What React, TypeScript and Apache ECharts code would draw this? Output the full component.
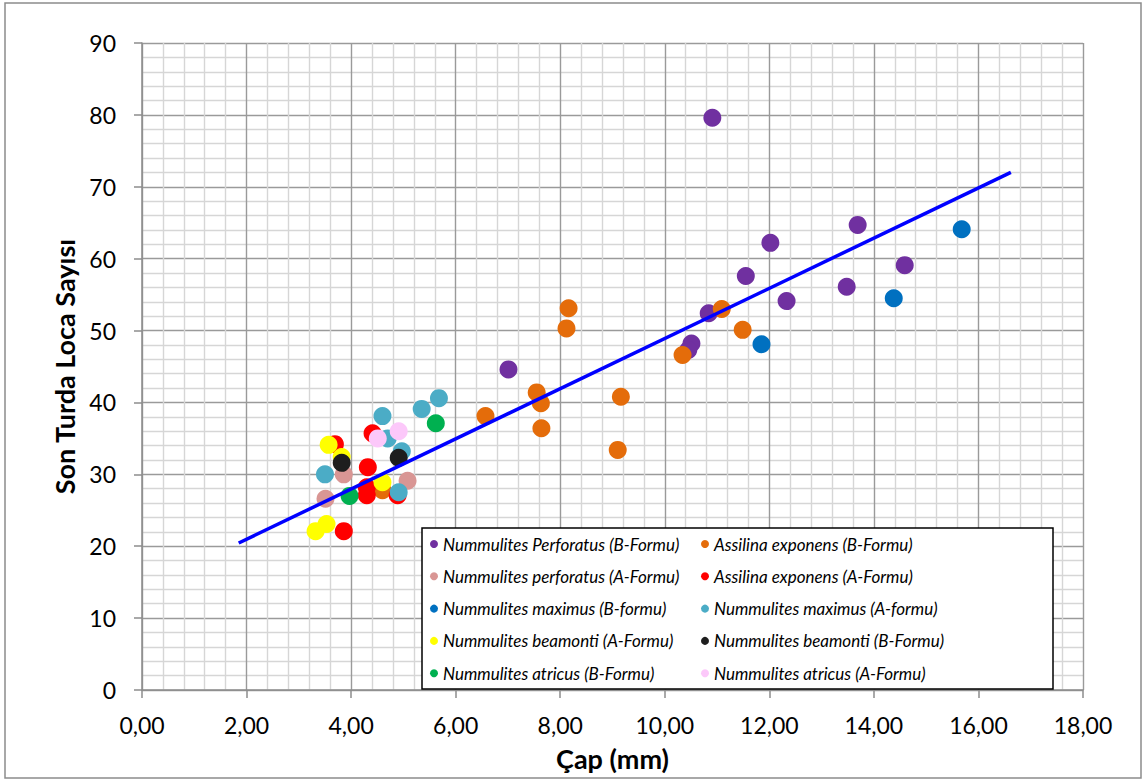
import React, { useEffect, useRef } from "react";
import * as echarts from "echarts";

const seriesNames = [
  "Nummulites Perforatus (B-Formu)",
  "Assilina exponens (B-Formu)",
  "Nummulites perforatus (A-Formu)",
  "Assilina exponens (A-Formu)",
  "Nummulites maximus (B-formu)",
  "Nummulites maximus (A-formu)",
  "Nummulites beamonti (A-Formu)",
  "Nummulites beamonti (B-Formu)",
  "Nummulites atricus (B-Formu)",
  "Nummulites atricus (A-Formu)",
];

const seriesColors = [
  "#7030a0",
  "#e46c0a",
  "#d99694",
  "#ff0000",
  "#0070c0",
  "#4bacc6",
  "#ffff00",
  "#1e1e1e",
  "#00b050",
  "#fcc8fa",
];

const perforatusB = [
  [10.91, 79.6], [13.69, 64.7], [14.59, 59.1], [12.02, 62.2], [11.55, 57.6],
  [12.33, 54.1], [13.48, 56.1], [10.84, 52.4], [10.51, 48.2], [10.45, 47.3], [7.01, 44.6],
];
const assilinaB = [
  [8.16, 53.1], [8.12, 50.3], [7.55, 41.4], [7.63, 39.9], [7.64, 36.4], [6.57, 38.1],
  [9.16, 40.8], [9.1, 33.4], [11.09, 53.0], [11.49, 50.1], [10.34, 46.6], [4.6, 27.8],
];
const perforatusA = [[3.86, 30.0], [3.51, 26.6], [5.08, 29.1]];
const assilinaA = [
  [4.41, 35.7], [3.69, 34.2], [4.32, 31.0], [4.3, 28.2], [4.3, 27.1], [4.89, 27.1], [3.86, 22.1],
];
const maximusB = [[15.68, 64.1], [14.38, 54.5], [11.85, 48.1]];
const maximusA = [
  [5.68, 40.6], [5.35, 39.1], [4.6, 38.1], [4.7, 35.0], [4.97, 33.2], [3.5, 30.0], [4.91, 27.5],
];
const beamontiA = [[3.57, 34.1], [3.82, 32.4], [4.6, 28.9], [3.53, 23.1], [3.32, 22.1]];
const beamontiB = [[3.82, 31.6], [4.91, 32.3]];
const atricusB = [[5.62, 37.1], [3.97, 27.0]];
const atricusA = [[4.51, 35.0], [4.91, 36.0]];

const seriesData = [
  perforatusB, assilinaB, perforatusA, assilinaA, maximusB,
  maximusA, beamontiA, beamontiB, atricusB, atricusA,
];

const trendLine = [[1.85, 20.45], [16.62, 72.0]];

const xTicks = { min: 0, max: 18, interval: 2 };
const yTicks = { min: 0, max: 90, interval: 10 };

const FONT = "Lato";

export default function App() {
  const ref = useRef<HTMLDivElement>(null);

  useEffect(() => {
    if (!ref.current) return;
    const chart = echarts.init(ref.current, undefined, { renderer: "svg" });

    const axisCommon = {
      axisLine: { show: true, lineStyle: { color: "#8c8c8c", width: 1.5 } },
      axisTick: { show: true, inside: false, length: 8, lineStyle: { color: "#8c8c8c", width: 1.5 } },
      splitLine: { show: true, lineStyle: { color: "#9a9a9a", width: 1.4 } },
      minorTick: { show: false, splitNumber: 5 },
      minorSplitLine: { show: true, lineStyle: { color: "#d6d6d6", width: 1.4 } },
    };

    const scatterSeries = seriesNames.map((name, i) => ({
      name,
      type: "scatter",
      data: seriesData[i],
      symbol: "circle",
      symbolSize: 18,
      itemStyle: { color: seriesColors[i], opacity: 1 },
      emphasis: { disabled: true },
      z: 2,
    }));

    const legendCommon = {
      orient: "vertical",
      top: 534,
      padding: 0,
      itemGap: 12.3,
      itemWidth: 8,
      itemHeight: 8,
      icon: "circle",
      selectedMode: false,
      z: 20,
      textStyle: {
        fontFamily: FONT,
        fontStyle: "italic",
        fontSize: 17,
        lineHeight: 20,
        color: "#000",
      },
    };

    chart.setOption({
      animation: false,
      grid: { left: 142, top: 43, width: 941, height: 647, containLabel: false },
      xAxis: {
        type: "value",
        min: xTicks.min,
        max: xTicks.max,
        interval: xTicks.interval,
        name: "Çap (mm)",
        nameLocation: "middle",
        nameGap: 55,
        nameTextStyle: { fontFamily: FONT, fontWeight: "bold", fontSize: 27, color: "#000" },
        axisLabel: {
          margin: 23,
          fontFamily: FONT,
          fontSize: 23,
          color: "#000",
          formatter: (v: number) => v.toFixed(2).replace(".", ","),
        },
        ...axisCommon,
      },
      yAxis: {
        type: "value",
        min: yTicks.min,
        max: yTicks.max,
        interval: yTicks.interval,
        name: "Son Turda Loca Sayısı",
        nameLocation: "middle",
        nameGap: 63,
        nameTextStyle: { fontFamily: FONT, fontWeight: "bold", fontSize: 27, color: "#000" },
        axisLabel: { margin: 26, fontFamily: FONT, fontSize: 23, color: "#000" },
        ...axisCommon,
      },
      legend: [
        { ...legendCommon, left: 430, data: seriesNames.filter((_, i) => i % 2 === 0) },
        { ...legendCommon, left: 701, data: seriesNames.filter((_, i) => i % 2 === 1) },
      ],
      graphic: [
        {
          type: "rect",
          silent: true,
          z: -1,
          shape: { x: 5, y: 3, width: 1136, height: 775 },
          style: { fill: "none", stroke: "#8c8c8c", lineWidth: 1.5 },
        },
        {
          type: "rect",
          silent: true,
          z: 10,
          shape: { x: 422, y: 528, width: 631, height: 161 },
          style: { fill: "#ffffff", stroke: "#000000", lineWidth: 1.5 },
        },
      ],
      series: [
        ...scatterSeries,
        {
          name: "trend",
          type: "line",
          data: trendLine,
          symbol: "none",
          lineStyle: { color: "#0000ff", width: 3.5 },
          emphasis: { disabled: true },
          z: 5,
        },
      ],
    });

    return () => chart.dispose();
  }, []);

  return (
    <div
      ref={ref}
      style={{ position: "fixed", left: 0, top: 0, width: 1147, height: 782, background: "#fff" }}
    />
  );
}
